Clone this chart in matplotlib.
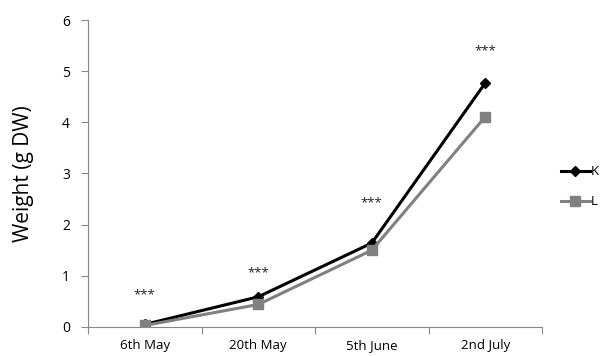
import matplotlib
matplotlib.use("Agg")
import matplotlib.pyplot as plt

plt.rcParams['font.family'] = ['Open Sans', 'DejaVu Sans']

dates = ['6th May', '20th May', '5th June', '2nd July']
weight_k = [0.05, 0.59, 1.64, 4.77]
weight_l = [0.03, 0.44, 1.50, 4.11]
star_y = [0.62, 1.06, 2.42, 5.40]
star_txt = ['***', '***', '***', '***']

fig = plt.figure(figsize=(6.04, 3.56), dpi=100)
ax = fig.add_axes([0.1457, 0.0815, 0.7517, 0.8623])

x = list(range(len(dates)))
ax.plot(x, weight_k, color='black', linewidth=2.2, marker='D', markersize=5, label='K')
ax.plot(x, weight_l, color='#808080', linewidth=2.2, marker='s', markersize=7, label='L')

for xi, yi, s in zip(x, star_y, star_txt):
    ax.text(xi, yi, s, ha='center', va='center', fontsize=9.5, color='#222222')

ax.set_xlim(-0.5, len(dates) - 0.5)
ax.set_ylim(0, 6)
ax.set_yticks(range(0, 7))
ax.set_xticks([i + 0.5 for i in range(-1, len(dates))], minor=False)
ax.set_xticklabels([])
ax.set_xticks(x, minor=True)
ax.set_xticklabels(dates, minor=True, fontsize=9.5)
ax.tick_params(axis='x', which='minor', length=0, pad=9)
ax.tick_params(axis='x', which='major', length=5, color='#888888', direction='out')
ax.tick_params(axis='y', length=5, color='#888888', labelsize=10, pad=8)

for side in ['top', 'right']:
    ax.spines[side].set_visible(False)
for side in ['left', 'bottom']:
    ax.spines[side].set_color('#888888')

ax.set_ylabel('Weight (g DW)', fontsize=15, labelpad=20)

fig.legend(loc='center left', bbox_to_anchor=(0.928, 0.475), frameon=False,
           fontsize=9.5, handlelength=2.2, handletextpad=0.1, labelspacing=1.3,
           borderaxespad=0, borderpad=0)

fig.savefig('out.png', dpi=100)
